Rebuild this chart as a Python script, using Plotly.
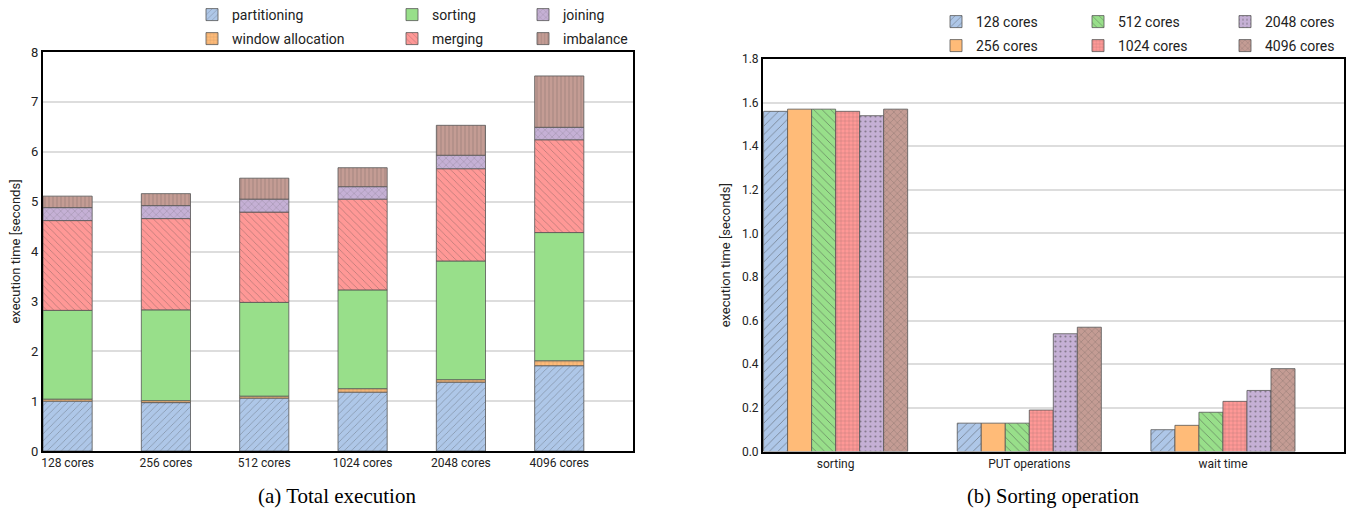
import plotly.graph_objects as go
import numpy as np

W, H = 1353, 513

# ---------------- data ----------------
cores = ["128 cores", "256 cores", "512 cores", "1024 cores", "2048 cores", "4096 cores"]
components = ["partitioning", "window allocation", "sorting", "merging", "joining", "imbalance"]
partitioning = [1.00, 0.97, 1.06, 1.18, 1.38, 1.71]
window_allocation = [0.04, 0.04, 0.04, 0.07, 0.05, 0.10]
sorting_total = [1.78, 1.82, 1.88, 1.98, 2.38, 2.57]
merging = [1.80, 1.83, 1.81, 1.82, 1.85, 1.86]
joining = [0.26, 0.26, 0.26, 0.25, 0.27, 0.25]
imbalance = [0.23, 0.24, 0.42, 0.38, 0.60, 1.03]

ops = ["sorting", "PUT operations", "wait time"]
t128 = [1.56, 0.13, 0.10]
t256 = [1.57, 0.13, 0.12]
t512 = [1.57, 0.13, 0.18]
t1024 = [1.56, 0.19, 0.23]
t2048 = [1.54, 0.54, 0.28]
t4096 = [1.57, 0.57, 0.38]

left_ticks = [0, 1, 2, 3, 4, 5, 6, 7, 8]
right_ticks = [0.0, 0.2, 0.4, 0.6, 0.8, 1.0, 1.2, 1.4, 1.6, 1.8]

# ---------------- styles ----------------
C_BLUE, C_ORANGE, C_GREEN = "#aec7e8", "#ffbb78", "#98df8a"
C_RED, C_PURPLE, C_BROWN = "#ff9896", "#c5b0d5", "#c49c94"
FONT = "Roboto"
EDGE = "#555555"

def px_x(p):
    return p / W

def px_y(p):
    return 1 - p / H

fig = go.Figure()

left_series = [partitioning, window_allocation, sorting_total, merging, joining, imbalance]
left_colors = [C_BLUE, C_ORANGE, C_GREEN, C_RED, C_PURPLE, C_BROWN]
left_shapes = ["/", "+", "", "\\", "x", "|"]
left_sizes = [5, 4, 5, 5, 5, 4]

xi = np.arange(len(cores))
base = np.zeros(len(cores))
left_legend_pos = [(232, 15), (232, 39), (432, 15), (432, 39), (563, 15), (563, 39)]
for i, (name, vals, col, shp, sz) in enumerate(zip(components, left_series, left_colors, left_shapes, left_sizes)):
    lg = "legend" if i == 0 else f"legend{i+1}"
    fig.add_trace(go.Bar(
        x=xi, y=vals, base=base.copy(), name=name, showlegend=True,
        width=0.5, offset=-0.25,
        marker=dict(color=col, line=dict(color=EDGE, width=0.8),
                    pattern=dict(shape=shp, fgcolor="#444444", fgopacity=0.5, size=sz, solidity=0.12)),
        xaxis="x", yaxis="y", legend=lg,
    ))
    base = base + np.array(vals)

right_series = [t128, t256, t512, t1024, t2048, t4096]
right_colors = [C_BLUE, C_ORANGE, C_GREEN, C_RED, C_PURPLE, C_BROWN]
right_shapes = ["/", "", "\\", "+", ".", "x"]
right_sizes = [6, 6, 6, 4, 5, 5]
right_legend_pos = [(976, 22), (976, 46), (1118, 22), (1118, 46), (1265, 22), (1265, 46)]
bw = 0.124
oi = np.arange(len(ops))
for i, (name, vals, col, shp, sz) in enumerate(zip(cores, right_series, right_colors, right_shapes, right_sizes)):
    lg = f"legend{i+7}"
    fig.add_trace(go.Bar(
        x=oi, y=vals, name=name, showlegend=True,
        width=bw, offset=-3 * bw + i * bw,
        marker=dict(color=col, line=dict(color=EDGE, width=0.8),
                    pattern=dict(shape=shp, fgcolor="#444444", fgopacity=0.5, size=sz, solidity=0.15)),
        xaxis="x2", yaxis="y2", legend=lg,
    ))

layout = dict(
    width=W, height=H,
    margin=dict(l=0, r=0, t=0, b=0, autoexpand=False),
    showlegend=True,
    paper_bgcolor="white", plot_bgcolor="white",
    font=dict(family=FONT, size=12, color="#222222"),
    barmode="group",
    xaxis=dict(domain=[px_x(43), px_x(633)], range=[-0.25, 5.75],
               tickmode="array", tickvals=list(xi), ticktext=cores,
               showline=True, linecolor="black", linewidth=2, mirror=True,
               showgrid=False, ticks="", tickfont=dict(size=12), anchor="y", automargin=False),
    yaxis=dict(domain=[px_y(451), px_y(52)], range=[0, 8],
               tickmode="array", tickvals=left_ticks,
               showline=True, linecolor="black", linewidth=2, mirror=True,
               gridcolor="#dddddd", gridwidth=1.5, ticks="", zeroline=False,
               tickfont=dict(size=13), anchor="x", automargin=False,
               title=dict(text="execution time [seconds]", font=dict(size=13), standoff=8)),
    xaxis2=dict(domain=[px_x(763), px_x(1344)], range=[-0.375, 2.625],
                tickmode="array", tickvals=list(oi), ticktext=ops,
                showline=True, linecolor="black", linewidth=2, mirror=True,
                showgrid=False, ticks="", tickfont=dict(size=12), anchor="y2", automargin=False),
    yaxis2=dict(domain=[px_y(451.5), px_y(59)], range=[0, 1.8],
                tickmode="array", tickvals=right_ticks, tickformat=".1f",
                showline=True, linecolor="black", linewidth=2, mirror=True,
                gridcolor="#dddddd", gridwidth=1.5, ticks="", zeroline=False,
                tickfont=dict(size=12), anchor="x2", automargin=False,
                title=dict(text="execution time [seconds]", font=dict(size=13), standoff=8)),
)

for i, (tx, ty) in enumerate(left_legend_pos):
    key = "legend" if i == 0 else f"legend{i+1}"
    layout[key] = dict(x=px_x(tx - 40), y=px_y(ty), xanchor="left", yanchor="middle",
                       bgcolor="rgba(0,0,0,0)", font=dict(size=14, family=FONT),
                       itemclick=False)
for i, (tx, ty) in enumerate(right_legend_pos):
    key = f"legend{i+7}"
    layout[key] = dict(x=px_x(tx - 40), y=px_y(ty), xanchor="left", yanchor="middle",
                       bgcolor="rgba(0,0,0,0)", font=dict(size=14, family=FONT),
                       itemclick=False)

layout["annotations"] = [
    dict(text="(a) Total execution", x=px_x(337), y=px_y(496), xref="paper", yref="paper",
         showarrow=False, xanchor="center", yanchor="middle",
         font=dict(family="Liberation Serif", size=21, color="black")),
    dict(text="(b) Sorting operation", x=px_x(1053), y=px_y(496), xref="paper", yref="paper",
         showarrow=False, xanchor="center", yanchor="middle",
         font=dict(family="Liberation Serif", size=20.5, color="black")),
]

fig.update_layout(**layout)
fig.write_html("out.html", config={"displayModeBar": False},
               post_script="document.body.style.margin='0';")
